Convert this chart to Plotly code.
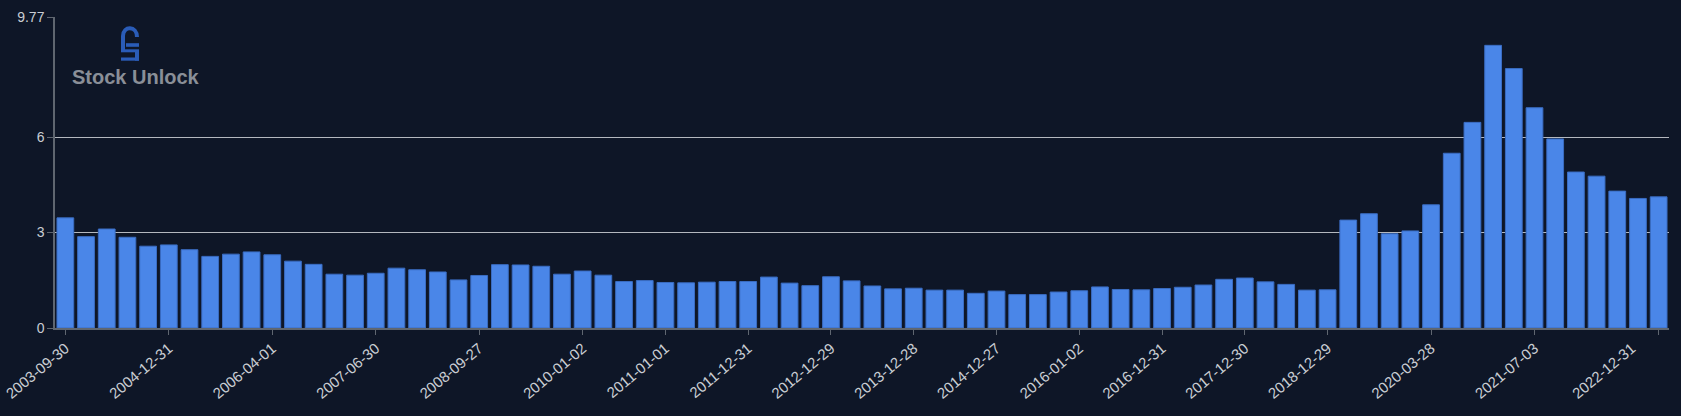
import plotly.graph_objects as go

# ---------------- data ----------------
dates = [
    "2003-09-30", "2003-12-31", "2004-03-31", "2004-06-30", "2004-09-30", "2004-12-31",
    "2005-04-02", "2005-07-02", "2005-10-01", "2005-12-31", "2006-04-01",
    "2006-07-01", "2006-09-30", "2006-12-30", "2007-03-31", "2007-06-30",
    "2007-09-29", "2007-12-29", "2008-03-29", "2008-06-28", "2008-09-27",
    "2008-12-27", "2009-03-28", "2009-06-27", "2009-10-03", "2010-01-02",
    "2010-04-03", "2010-07-03", "2010-10-02", "2011-01-01",
    "2011-04-02", "2011-07-02", "2011-10-01", "2011-12-31",
    "2012-03-31", "2012-06-30", "2012-09-29", "2012-12-29",
    "2013-03-30", "2013-06-29", "2013-09-28", "2013-12-28",
    "2014-03-29", "2014-06-28", "2014-09-27", "2014-12-27",
    "2015-03-28", "2015-06-27", "2015-10-03", "2016-01-02",
    "2016-04-02", "2016-07-02", "2016-10-01", "2016-12-31",
    "2017-04-01", "2017-07-01", "2017-09-30", "2017-12-30",
    "2018-03-31", "2018-06-30", "2018-09-29", "2018-12-29",
    "2019-03-30", "2019-06-29", "2019-09-28", "2019-12-28", "2020-03-28",
    "2020-06-27", "2020-09-26", "2020-12-26", "2021-04-03", "2021-07-03",
    "2021-10-02", "2022-01-01", "2022-04-02", "2022-07-02", "2022-10-01", "2022-12-31",
]

values = [
    3.46, 2.87, 3.11, 2.85, 2.57, 2.61, 2.46, 2.25, 2.32, 2.39,
    2.30, 2.10, 2.00, 1.69, 1.66, 1.72, 1.88, 1.83, 1.76, 1.51,
    1.65, 1.99, 1.98, 1.94, 1.69, 1.79, 1.66, 1.46, 1.49, 1.43,
    1.42, 1.44, 1.46, 1.46, 1.60, 1.41, 1.33, 1.61, 1.48, 1.32,
    1.23, 1.25, 1.19, 1.19, 1.09, 1.16, 1.05, 1.05, 1.13, 1.17,
    1.29, 1.21, 1.20, 1.24, 1.28, 1.35, 1.53, 1.57, 1.45, 1.37,
    1.19, 1.20, 3.39, 3.59, 2.96, 3.05, 3.87, 5.49, 6.46, 8.88,
    8.15, 6.92, 5.94, 4.90, 4.77, 4.30, 4.07, 4.12,
]

x_tick_labels = [
    "2003-09-30", "2004-12-31", "2006-04-01", "2007-06-30", "2008-09-27",
    "2010-01-02", "2011-01-01", "2011-12-31", "2012-12-29", "2013-12-28",
    "2014-12-27", "2016-01-02", "2016-12-31", "2017-12-30", "2018-12-29",
    "2020-03-28", "2021-07-03", "2022-12-31",
]

y_max = 9.77
y_ticks = [0, 3, 6, 9.77]
y_tick_labels = ["0", "3", "6", "9.77"]

# ---------------- style ----------------
W, H = 1681, 416
ML, MR, MT, MB = 55, 12, 17, 88
BG = "#0e1627"
BAR = "#4a86e8"
FONT = "Liberation Sans, Arial, Helvetica, sans-serif"
TICK_COLOR = "#c9cdd3"
GRID = "#b4b8bf"
AXIS = "#5f6670"

tick_idx = [dates.index(d) for d in x_tick_labels]
# the last label is pulled left so that it stays inside the chart
label_pos = list(tick_idx)
label_pos[-1] = tick_idx[-1] - 1.3
x_range = [-0.5, len(dates) - 0.5]

fig = go.Figure()
fig.add_trace(go.Bar(
    x=dates, y=values,
    marker=dict(color=BAR, line=dict(color="#3a6cc2", width=1)),
    hovertemplate="%{x}<br>%{y:.2f}<extra></extra>",
))
# invisible helper so that the label axis (x2) is drawn
fig.add_trace(go.Scatter(
    x=label_pos, y=[0] * len(label_pos), xaxis="x2", yaxis="y",
    mode="markers", marker=dict(opacity=0, size=1),
    hoverinfo="skip", showlegend=False,
))

fig.update_layout(
    width=W, height=H,
    margin=dict(l=ML, r=MR, t=MT, b=MB, pad=0),
    paper_bgcolor=BG, plot_bgcolor=BG,
    bargap=0.19,
    showlegend=False,
    font=dict(family=FONT, size=14, color=TICK_COLOR),
    xaxis=dict(
        type="category",
        tickmode="array", tickvals=tick_idx,
        showticklabels=False,
        ticks="outside", ticklen=5, tickcolor=AXIS, tickwidth=1,
        showline=True, linecolor=AXIS, linewidth=1.5,
        showgrid=False, zeroline=False,
        range=x_range,
        automargin=False,
    ),
    xaxis2=dict(
        type="linear", overlaying="x", anchor="y", side="bottom",
        range=x_range,
        tickmode="array", tickvals=label_pos, ticktext=x_tick_labels,
        tickangle=-40, ticks="outside", ticklen=5, tickcolor="rgba(0,0,0,0)",
        showline=False, showgrid=False, zeroline=False,
        tickfont=dict(size=15, color=TICK_COLOR),
        ticklabeloverflow="allow",
        automargin=False,
    ),
    yaxis=dict(
        range=[0, y_max],
        tickmode="array", tickvals=y_ticks, ticktext=y_tick_labels,
        ticks="outside", ticklen=6, tickcolor=AXIS, tickwidth=1,
        showline=True, linecolor=AXIS, linewidth=1.5,
        showgrid=True, gridcolor=GRID, gridwidth=1,
        zeroline=False,
        tickfont=dict(size=14, color=TICK_COLOR),
        automargin=False,
    ),
)

# ---------------- logo (decoration) ----------------
pw = W - ML - MR
ph = H - MT - MB


def px(xp):
    return (xp - ML) / pw


def py(yp):
    return (H - MB - yp) / ph


LOGO = "#2a5cb8"
icon_path = (
    f"M {px(123)},{py(51)} L {px(123)},{py(36)} "
    f"C {px(123)},{py(25.5)} {px(137)},{py(25.5)} {px(137)},{py(37)}"
)
fig.add_shape(type="path", xref="paper", yref="paper", path=icon_path,
              line=dict(color=LOGO, width=4))
for (x0, y0, x1, y1) in [(126, 43.2, 139, 46.8), (121, 49.3, 135, 52.3),
                         (135, 49.3, 139, 60.7), (121, 57.5, 139, 60.7)]:
    fig.add_shape(type="rect", xref="paper", yref="paper",
                  x0=px(x0), x1=px(x1), y0=py(y1), y1=py(y0),
                  fillcolor=LOGO, line=dict(width=0))

fig.add_annotation(
    xref="paper", yref="paper", x=px(70), y=py(76.5),
    xanchor="left", yanchor="middle", showarrow=False,
    text="<b>Stock Unlock</b>",
    font=dict(family=FONT, size=20, color="#8a8f98"),
)

fig.write_html("out.html", config={"displayModeBar": False},
               post_script="document.body.style.margin='0';")
